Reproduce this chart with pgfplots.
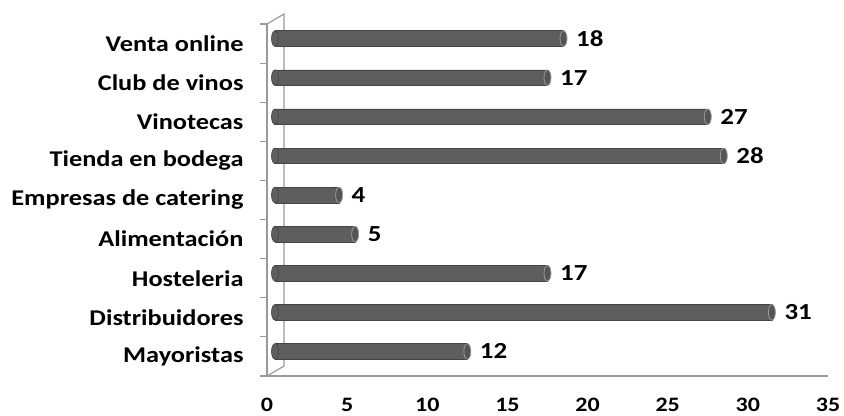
\documentclass[border=0pt]{standalone}
\usepackage{pgfplots}
\usepackage{pgfplotstable}
\pgfplotsset{compat=1.18}
\usepackage{fontspec}
\setmainfont{Carlito}[FakeStretch=1.17]
\definecolor{axisgray}{HTML}{9A9A9A}
\definecolor{barFill}{HTML}{5E5E5E}
\definecolor{barEdge}{HTML}{444444}
\definecolor{capFill}{HTML}{555555}
\definecolor{capEdge}{HTML}{9A9A9A}
% elliptical caps give the bars a cylinder look
\pgfdeclareplotmark{capend}{%
  \pgfpathellipse{\pgfpointorigin}{\pgfqpoint{3.5bp}{0pt}}{\pgfqpoint{0pt}{7.8bp}}%
  \pgfusepathqfillstroke}
\pgfplotstableread{
idx value
0 12
1 31
2 17
3 5
4 4
5 28
6 27
7 17
8 18
}\canales
\begin{document}
\begin{tikzpicture}
\path (0,0) rectangle (844bp,414bp);
\begin{axis}[
  at={(267bp,38bp)}, anchor=south west,
  scale only axis, width=561bp, height=352bp,
  xmin=0, xmax=35, ymin=-0.5, ymax=8.5,
  axis lines=left, axis line style={axisgray, line width=1.6bp, -},
  xtick={0,5,...,35},
  ytick={0,...,8},
  yticklabels={Mayoristas,Distribuidores,Hosteleria,Alimentación,Empresas de catering,Tienda en bodega,Vinotecas~,Club de vinos,Venta online},
  major tick length=0pt,
  xtick style={draw=none},
  extra x ticks={0,5,...,35}, extra x tick labels={},
  extra x tick style={major tick length=7bp, tick style={axisgray, line width=1.2bp, draw=axisgray}, tick align=outside},
  extra y ticks={-0.5,0.5,...,8.5}, extra y tick labels={},
  extra y tick style={major tick length=7bp, tick style={axisgray, line width=1.2bp, draw=axisgray}, tick align=outside},
  yticklabel style={font=\fontsize{22.5bp}{26bp}\selectfont\bfseries, xshift=-20bp},
  xticklabel style={font=\fontsize{20.5bp}{24bp}\selectfont\bfseries, yshift=-19bp},
  /pgf/number format/assume math mode=true,
  clip=false,
]
% depth lines of the back wall
\draw[axisgray, line width=1.2bp] (rel axis cs:0,1) -- ([shift={(17bp,10bp)}]rel axis cs:0,1)
   -- ([shift={(17bp,10bp)}]rel axis cs:0,0) -- (rel axis cs:0,0);
% rounded left ends
\addplot[only marks, mark=capend, mark options={fill=barFill, draw=barEdge, line width=0.6bp}, xshift=8bp, yshift=5bp]
  table[x expr=0, y=idx] {\canales};
% bar bodies
\addplot[xbar, bar width=15.6bp, fill=barFill, draw=barEdge, line width=0.6bp,
  xshift=8bp, yshift=5bp,
  nodes near coords, nodes near coords style={font=\fontsize{23bp}{26bp}\selectfont\bfseries, anchor=west, xshift=9bp, text=black}]
  table[x=value, y=idx] {\canales};
% right ends
\addplot[only marks, mark=capend, mark options={fill=capFill, draw=capEdge, line width=0.8bp}, xshift=8bp, yshift=5bp]
  table[x=value, y=idx] {\canales};
\end{axis}
\end{tikzpicture}
\end{document}
